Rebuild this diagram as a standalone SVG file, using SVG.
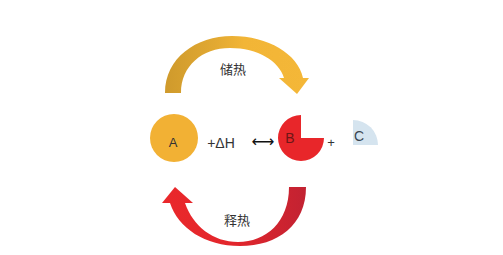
<svg xmlns="http://www.w3.org/2000/svg" width="503" height="255" viewBox="0 0 503 255">
<defs>
<linearGradient id="gold" x1="165" y1="0" x2="309" y2="0" gradientUnits="userSpaceOnUse">
<stop offset="0" stop-color="#CF9A2C"/>
<stop offset="0.35" stop-color="#E2A932"/>
<stop offset="0.55" stop-color="#F2B536"/>
<stop offset="1" stop-color="#F4B738"/>
</linearGradient>
<linearGradient id="red" x1="162" y1="0" x2="306" y2="0" gradientUnits="userSpaceOnUse">
<stop offset="0" stop-color="#EA282B"/>
<stop offset="0.5" stop-color="#E2262C"/>
<stop offset="1" stop-color="#C22232"/>
</linearGradient>
<style>
.lbl{font-family:"Liberation Sans","Noto Sans CJK SC",sans-serif;font-size:13px;fill:#333;text-anchor:middle}
.cjk{font-family:"Noto Sans CJK SC",sans-serif;font-size:13px;fill:#333;text-anchor:middle}
</style>
</defs>
<rect width="503" height="255" fill="#ffffff"/>
<g id="connectors">
<g id="store-arrow">
<path d="M165,93 C165,58 196,36 232,36 C268,36 298,54 303,78 L309,78 L297,94 L279,78 L284,78 C279,61 258,48 230,48 C202,48 181,66 181,93 Z" fill="url(#gold)"/>
<text class="cjk" x="233" y="74">储热</text>
</g>
<g id="release-arrow">
<path d="M306,187 C306,225 278,246 240,246 C205,246 178,228 170,203 L162,203 L175,187 L193,203 L185,203 C193,226 213,242 238,242 C266,242 289,222 289,187 Z" fill="url(#red)"/>
<text class="cjk" x="237" y="225">释热</text>
</g>
</g>
<g id="node-A">
<circle cx="174" cy="138" r="24" fill="#F2B134"/>
<text class="lbl" x="173" y="147">A</text>
</g>
<g id="term-dH">
<text class="lbl" x="221" y="148" style="font-size:14px">+ΔH</text>
</g>
<g id="equilibrium">
<text x="263" y="147" font-family="DejaVu Sans,sans-serif" font-size="16" fill="#111" text-anchor="middle">⟷</text>
</g>
<g id="node-B">
<path d="M301,138 L324,138 A23,23 0 1 1 301,115 Z" fill="#E8262A"/>
<text class="lbl" x="290" y="143" style="fill:#6E1616;font-size:14px">B</text>
</g>
<g id="plus">
<text class="lbl" x="331" y="147">+</text>
</g>
<g id="node-C">
<path d="M353,145 L353,120 A25,25 0 0 1 378,145 Z" fill="#D5E4EF"/>
<text class="lbl" x="359" y="141" style="fill:#3a4450;font-size:14px">C</text>
</g>
</svg>
